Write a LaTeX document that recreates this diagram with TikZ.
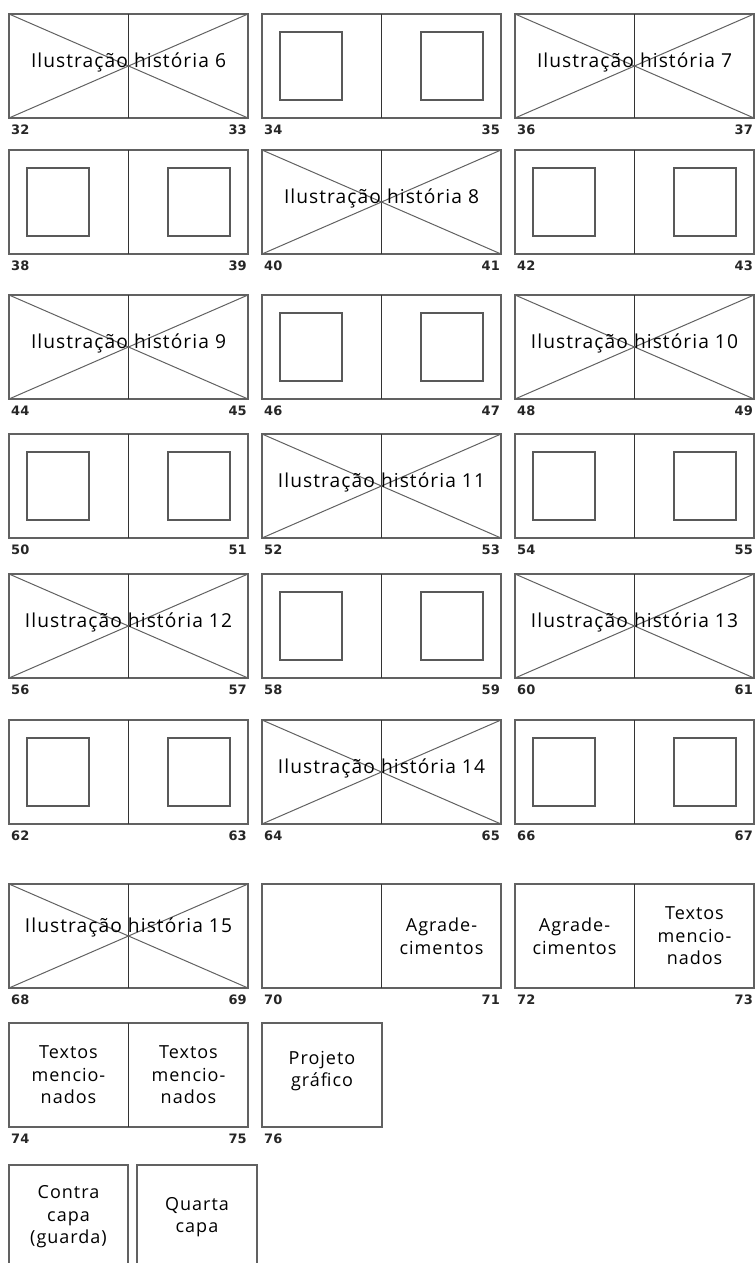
\documentclass[tikz,border=0pt]{standalone}
\usepackage{fontspec}
\setmainfont{Open Sans}[LetterSpace=5.5]
\newfontfamily\numfont{DejaVu Sans}[LetterSpace=1]
\tikzset{
  spread/.style={draw=black!62, line width=1.1pt, minimum width=239pt, minimum height=104pt, inner sep=0pt, outer sep=0pt, anchor=north west},
  single/.style={draw=black!62, line width=1.1pt, minimum width=120pt, minimum height=104pt, inner sep=0pt, outer sep=0pt, anchor=north west},
  spine/.style={draw=black!80, line width=1.1pt},
  diag/.style={draw=black!62, line width=1pt},
  innersq/.style={draw=black!65, line width=1.1pt},
  illtxt/.style={font=\fontsize{19.2}{22}\selectfont, text=black, inner sep=0pt, anchor=base},
  pgtxt/.style={font=\fontsize{18}{22.5}\selectfont, text=black, inner sep=0pt, align=center},
  num/.style={font=\numfont\bfseries\fontsize{13}{15}\selectfont, text=black!85, inner sep=0pt},
}
\newcommand\pgnums[3]{%
  \node[num, anchor=base west] (#1l) at ([xshift=2pt,yshift=-16pt]#1.south west) {#2};
  \node[num, anchor=base east] (#1r) at ([xshift=-1pt,yshift=-16pt]#1.south east) {#3};
}
\newcommand\ilspread[7]{% name, x, y, text, lnum, rnum, baseline shift
  \node[spread] (#1) at (#2,#3) {};
  \draw[spine] (#1.north) -- (#1.south);
  \draw[diag] (#1.north west) -- (#1.south east);
  \draw[diag] (#1.south west) -- (#1.north east);
  \node[illtxt] (#1t) at ([yshift=-#7pt]#1.center) {#4};
  \pgnums{#1}{#5}{#6}%
}
\newcommand\plspread[5]{% name, x, y, lnum, rnum
  \node[spread] (#1) at (#2,#3) {};
  \draw[spine] (#1.north) -- (#1.south);
  \draw[innersq] ([xshift=18pt,yshift=-18pt]#1.north west) rectangle ++(62,68);
  \draw[innersq] ([xshift=-80pt,yshift=-18pt]#1.north east) rectangle ++(62,68);
  \pgnums{#1}{#4}{#5}%
}
\begin{document}
\begin{tikzpicture}[x=1pt,y=-1pt]
\useasboundingbox (0,0) rectangle (755,1263);
% row 1
\ilspread{s32}{9}{14}{Ilustração história 6}{32}{33}{1.5}
\plspread{s34}{262}{14}{34}{35}
\ilspread{s36}{515}{14}{Ilustração história 7}{36}{37}{1.5}
% row 2
\plspread{s38}{9}{150}{38}{39}
\ilspread{s40}{262}{150}{Ilustração história 8}{40}{41}{1.5}
\plspread{s42}{515}{150}{42}{43}
% row 3
\ilspread{s44}{9}{295}{Ilustração história 9}{44}{45}{1.5}
\plspread{s46}{262}{295}{46}{47}
\ilspread{s48}{515}{295}{Ilustração história 10}{48}{49}{1.5}
% row 4
\plspread{s50}{9}{434}{50}{51}
\ilspread{s52}{262}{434}{Ilustração história 11}{52}{53}{1.5}
\plspread{s54}{515}{434}{54}{55}
% row 5
\ilspread{s56}{9}{574}{Ilustração história 12}{56}{57}{1.5}
\plspread{s58}{262}{574}{58}{59}
\ilspread{s60}{515}{574}{Ilustração história 13}{60}{61}{1.5}
% row 6
\plspread{s62}{9}{720}{62}{63}
\ilspread{s64}{262}{720}{Ilustração história 14}{64}{65}{1.5}
\plspread{s66}{515}{720}{66}{67}
% row 7
\ilspread{s68}{9}{884}{Ilustração história 15}{68}{69}{-4}
\node[spread] (s70) at (262,884) {};
\draw[spine] (s70.north) -- (s70.south);
\node[pgtxt] (s70t) at ([xshift=60pt]s70.center) {Agrade-\\cimentos};
\pgnums{s70}{70}{71}
\node[spread] (s72) at (515,884) {};
\draw[spine] (s72.north) -- (s72.south);
\node[pgtxt] (s72a) at ([xshift=-60pt]s72.center) {Agrade-\\cimentos};
\node[pgtxt] (s72b) at ([xshift=60pt]s72.center) {Textos\\mencio-\\nados};
\pgnums{s72}{72}{73}
% row 8
\node[spread] (s74) at (9,1023) {};
\draw[spine] (s74.north) -- (s74.south);
\node[pgtxt] (s74a) at ([xshift=-60pt]s74.center) {Textos\\mencio-\\nados};
\node[pgtxt] (s74b) at ([xshift=60pt]s74.center) {Textos\\mencio-\\nados};
\pgnums{s74}{74}{75}
\node[single] (s76) at (262,1023) {};
\node[pgtxt] (s76t) at ([yshift=4pt]s76.center) {Projeto\\gráfico};
\node[num, anchor=base west] (s76l) at ([xshift=2pt,yshift=-16pt]s76.south west) {76};
% row 9
\node[single, minimum width=119pt] (cc) at (9,1165) {};
\node[pgtxt] (cct) at (cc.center) {Contra\\capa\\(guarda)};
\node[single] (qc) at (137,1165) {};
\node[pgtxt] (qct) at (qc.center) {Quarta\\capa};
\end{tikzpicture}
\end{document}
